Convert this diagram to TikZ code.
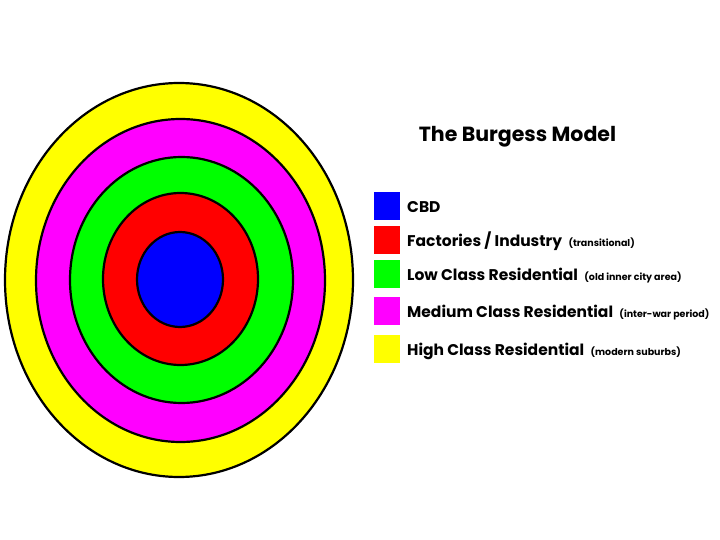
\documentclass[tikz,border=0pt]{standalone}
\usepackage{fontspec}
\setmainfont{Poppins}
\definecolor{cbd}{RGB}{0,0,255}
\definecolor{fact}{RGB}{255,0,0}
\definecolor{low}{RGB}{0,255,0}
\definecolor{med}{RGB}{255,0,255}
\definecolor{high}{RGB}{255,255,0}
\begin{document}
\begin{tikzpicture}[x=1pt,y=-1pt,ring/.style={draw=black,line width=2.2pt},
swatch/.style={minimum width=26pt,minimum height=28pt,inner sep=0pt},
lab/.style={anchor=base west,inner sep=0pt,font=\bfseries\fontsize{15.5}{15.5}\selectfont},
note/.style={anchor=base west,inner sep=0pt,font=\bfseries\fontsize{9.5}{9.5}\selectfont}]
\useasboundingbox(0,0)rectangle(720,540);
% rings, outside in
\draw[ring,fill=high](179,280)ellipse[x radius=174pt,y radius=197pt];
\draw[ring,fill=med](180.5,280.5)ellipse[x radius=144.5pt,y radius=161.5pt];
\draw[ring,fill=low](181.5,280)ellipse[x radius=111.5pt,y radius=123pt];
\draw[ring,fill=fact](180.5,279)ellipse[x radius=77.5pt,y radius=86pt];
\draw[ring,fill=cbd](180,279.5)ellipse[x radius=43pt,y radius=47.5pt];
\node[font=\bfseries\fontsize{20.5}{20.5}\selectfont](title)at(517.5,137){The Burgess Model};
\foreach \c/\t/\n/\y in {cbd/CBD/{}/206,fact/{Factories / Industry}/{(transitional)}/240,
  low/Low Class Residential/{(old inner city area)}/274,
  med/Medium Class Residential/{(inter-war period)}/310.5,high/High Class Residential/{(modern suburbs)}/348.5}{
\node[swatch,fill=\c](sw-\c)at(387,\y){};
\node[lab](lab-\c)at(407,\y+6.5){\t};
\node[note](note-\c)at([xshift=6pt]lab-\c.base east){\n};
}
\end{tikzpicture}
\end{document}
